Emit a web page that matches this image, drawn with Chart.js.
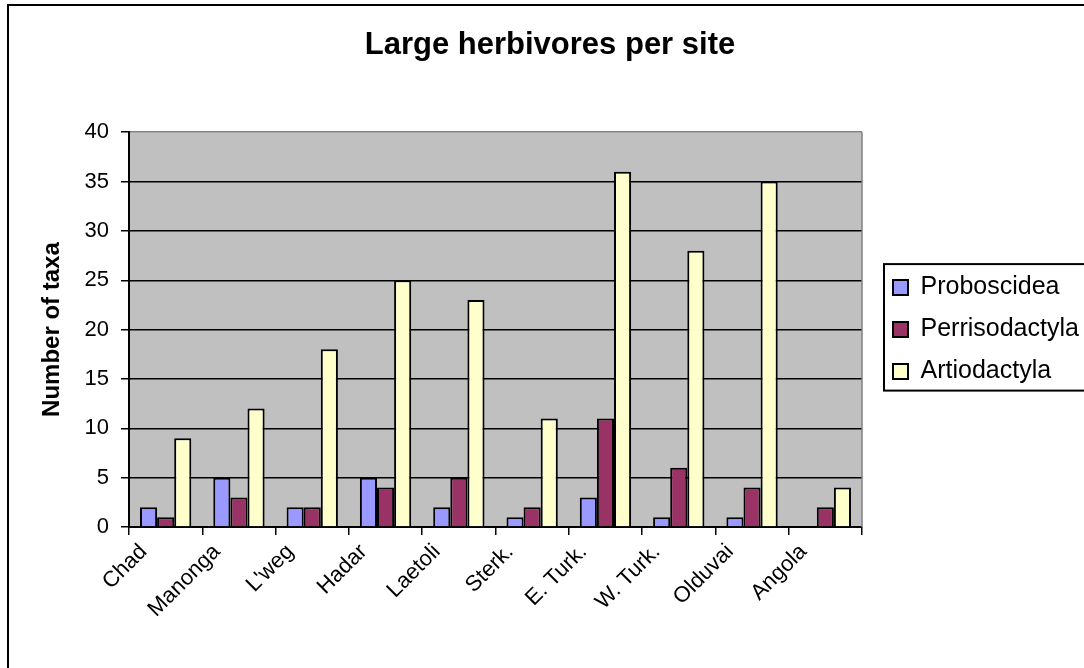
<!DOCTYPE html>
<html>
<head>
<meta charset="utf-8">
<script src="https://cdn.jsdelivr.net/npm/chart.js@4.4.1/dist/chart.umd.min.js"></script>
<style>
  html, body { margin: 0; padding: 0; background: #fff; overflow: hidden; }
  #wrap { position: relative; width: 1084px; height: 668px; overflow: hidden; }
  #frame {
    position: absolute; left: 7px; top: 4px; width: 1200px; height: 800px;
    border: 2px solid #000; pointer-events: none;
  }
</style>
</head>
<body>
<div id="wrap">
  <canvas id="herbChart" width="1084" height="668"></canvas>
  <div id="frame"></div>
</div>
<script>
const sites = ['Chad', 'Manonga', "L'weg", 'Hadar', 'Laetoli', 'Sterk.', 'E. Turk.', 'W. Turk.', 'Olduvai', 'Angola'];
const proboscidea = [2, 5, 2, 5, 2, 1, 3, 1, 1, 0];
const perrisodactyla = [1, 3, 2, 4, 5, 2, 11, 6, 4, 2];
const artiodactyla = [9, 12, 18, 25, 23, 11, 36, 28, 35, 4];

const FONT = "'Liberation Sans', Arial, Helvetica, sans-serif";
const PLOT_BG = '#C0C0C0';
const PLOT_EDGE = '#808080';

// gray plot background, gray right edge, and a frame round the legend
const plotFrame = {
    id: 'plotFrame',
    beforeInit(chart) {
        const fit = chart.legend.fit;
        chart.legend.fit = function () {
            fit.bind(chart.legend)();
            this.width = 222;
        };
    },
    afterLayout(chart) {
        chart.legend.left += 14;
    },
    beforeDraw(chart) {
        const { ctx, chartArea: a } = chart;
        ctx.save();
        ctx.fillStyle = PLOT_BG;
        ctx.fillRect(a.left, a.top, a.right - a.left, a.bottom - a.top);
        ctx.restore();
    },
    beforeDatasetsDraw(chart) {
        const { ctx, chartArea: a } = chart;
        ctx.save();
        ctx.strokeStyle = PLOT_EDGE;
        ctx.lineWidth = 1.5;
        ctx.beginPath();
        ctx.moveTo(a.right, a.top);
        ctx.lineTo(a.right, a.bottom);
        ctx.stroke();
        ctx.restore();
    },
    afterDraw(chart) {
        const boxes = chart.legend.legendHitBoxes;
        if (!boxes || !boxes.length) return;
        const first = boxes[0];
        const last = boxes[boxes.length - 1];
        const { ctx } = chart;
        ctx.save();
        ctx.strokeStyle = '#000';
        ctx.lineWidth = 2;
        const x = first.left - 9;
        const y = first.top - 11;
        ctx.strokeRect(x, y, chart.width + 20 - x, last.top + last.height + 6.5 - y);
        ctx.restore();
    }
};

const ctx = document.getElementById('herbChart').getContext('2d');

new Chart(ctx, {
    type: 'bar',
    data: {
        labels: sites,
        datasets: [
            {
                label: 'Proboscidea',
                data: proboscidea,
                backgroundColor: '#9999FF',
                borderColor: '#000',
                borderWidth: 2
            },
            {
                label: 'Perrisodactyla',
                data: perrisodactyla,
                backgroundColor: '#993366',
                borderColor: '#000',
                borderWidth: 2
            },
            {
                label: 'Artiodactyla',
                data: artiodactyla,
                backgroundColor: '#FFFFCC',
                borderColor: '#000',
                borderWidth: 2
            }
        ]
    },
    options: {
        responsive: false,
        animation: false,
        devicePixelRatio: 1,
        layout: { padding: { left: 16, right: 0, top: 0, bottom: 0 } },
        datasets: {
            bar: { categoryPercentage: 0.7, barPercentage: 1.0 }
        },
        plugins: {
            title: {
                display: true,
                text: 'Large herbivores per site',
                color: '#000',
                font: { family: FONT, size: 31, weight: 'bold' },
                padding: { top: 27, bottom: 68 }
            },
            legend: {
                position: 'right',
                fullSize: false,
                labels: {
                    color: '#000',
                    boxWidth: 15,
                    boxHeight: 15,
                    padding: 17,
                    font: { family: FONT, size: 25 }
                }
            },
            tooltip: { enabled: false }
        },
        scales: {
            x: {
                border: { display: true, color: '#000', width: 2 },
                grid: {
                    offset: true,
                    drawOnChartArea: false,
                    drawTicks: true,
                    tickLength: 8,
                    color: '#000',
                    lineWidth: 1.5
                },
                ticks: {
                    color: '#000',
                    font: { family: FONT, size: 22 },
                    autoSkip: false,
                    maxRotation: 45,
                    minRotation: 45,
                    labelOffset: -22,
                    padding: 4
                },
                afterFit(scale) { scale.height = 141; }
            },
            y: {
                min: 0,
                max: 40,
                border: { display: true, color: '#000', width: 2 },
                grid: {
                    color: c => (c.tick && c.tick.value === 40 ? PLOT_EDGE : '#000'),
                    tickColor: '#000',
                    lineWidth: 1.5,
                    tickLength: 8
                },
                ticks: {
                    stepSize: 5,
                    color: '#000',
                    padding: 12,
                    font: { family: FONT, size: 22 }
                },
                title: {
                    display: true,
                    text: 'Number of taxa',
                    color: '#000',
                    font: { family: FONT, size: 24, weight: 'bold' },
                    padding: { top: 22, bottom: 0 }
                },
                afterFit(scale) { scale.width = 113; }
            }
        }
    },
    plugins: [plotFrame]
});
</script>
</body>
</html>
